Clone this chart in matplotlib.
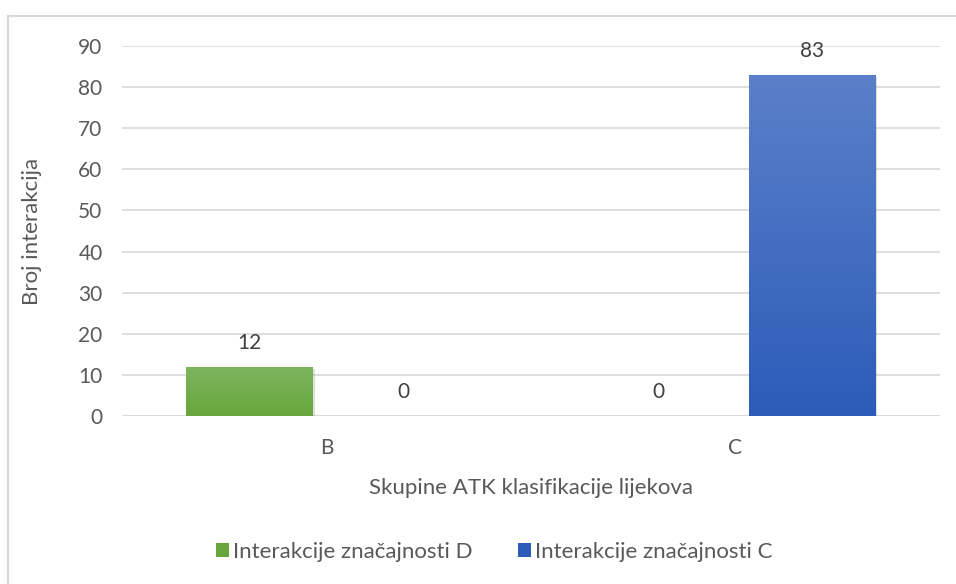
import matplotlib.pyplot as plt
import numpy as np
from matplotlib.colors import LinearSegmentedColormap
from matplotlib.lines import Line2D
from matplotlib.patches import Patch

plt.rcParams['font.family'] = ['Lato', 'DejaVu Sans']

categories = ['B', 'C']
series_names = ['Interakcije značajnosti D', 'Interakcije značajnosti C']
values_d = [12, 0]
values_c = [0, 83]
yticks = [0, 10, 20, 30, 40, 50, 60, 70, 80, 90]

green_top, green_bot = '#7db560', '#68a63c'
blue_top, blue_bot = '#5b80c9', '#2c5cb8'

fig = plt.figure(figsize=(9.56, 5.84), dpi=100)
ax = fig.add_axes([0.1276, 0.2877, 0.8556, 0.6336])

x = np.arange(len(categories))
width = 0.31
offset = 0.188


def grad_bars(xs, vals, top, bot):
    cmap = LinearSegmentedColormap.from_list('g', [bot, top])
    bars = ax.bar(xs, vals, width, color='none', edgecolor='none', zorder=3)
    grad = np.linspace(0, 1, 256).reshape(-1, 1)
    for b, v in zip(bars, vals):
        if v <= 0:
            continue
        x0 = b.get_x()
        # soft shadow
        ax.bar(x0 + b.get_width() / 2 + 0.004, v, b.get_width(), bottom=-0.5,
               color='#000000', alpha=0.12, zorder=2.5, linewidth=0)
        im = ax.imshow(grad, extent=[x0, x0 + b.get_width(), 0, v], origin='lower',
                       cmap=cmap, aspect='auto', zorder=3)
        im.set_clip_path(b)
    return bars


bars_d = grad_bars(x - offset, values_d, green_top, green_bot)
bars_c = grad_bars(x + offset, values_c, blue_top, blue_bot)

for bars, vals in ((bars_d, values_d), (bars_c, values_c)):
    for b, v in zip(bars, vals):
        ax.text(b.get_x() + b.get_width() / 2, v + 3.4, str(v), ha='center',
                va='bottom', fontsize=15, color='#404040')

ax.set_xlim(-0.5, 1.5)
ax.set_ylim(0, 90)
ax.set_yticks(yticks)
ax.set_xticks(x)
ax.set_xticklabels(categories)
ax.yaxis.grid(True, color='#d9d9d9', linewidth=1.2, zorder=0)
ax.set_axisbelow(True)
for s in ax.spines.values():
    s.set_visible(False)
ax.axhline(0, color='#d9d9d9', linewidth=1.2, zorder=1)
ax.tick_params(axis='both', length=0, labelsize=15, labelcolor='#595959')
ax.tick_params(axis='y', pad=14)
ax.tick_params(axis='x', pad=16)

ax.set_xlabel('Skupine ATK klasifikacije lijekova', fontsize=16, color='#595959', labelpad=14)
ax.set_ylabel('Broj interakcija', fontsize=16, color='#595959', labelpad=26)

handles = [Patch(facecolor=green_bot, edgecolor='none'),
           Patch(facecolor=blue_bot, edgecolor='none')]
fig.legend(handles, series_names, loc='center', bbox_to_anchor=(0.517, 0.055), ncol=2,
           frameon=False, fontsize=16, labelcolor='#595959', handlelength=0.6,
           handleheight=0.6, handletextpad=0.2, columnspacing=2.0)

# chart border (left and top edges visible)
fig.add_artist(Line2D([8 / 956, 8 / 956], [0, 1 - 16 / 584], color='#d9d9d9', linewidth=1.5))
fig.add_artist(Line2D([8 / 956, 1], [1 - 16 / 584, 1 - 16 / 584], color='#d9d9d9', linewidth=1.5))

fig.savefig('out.png', dpi=100)
